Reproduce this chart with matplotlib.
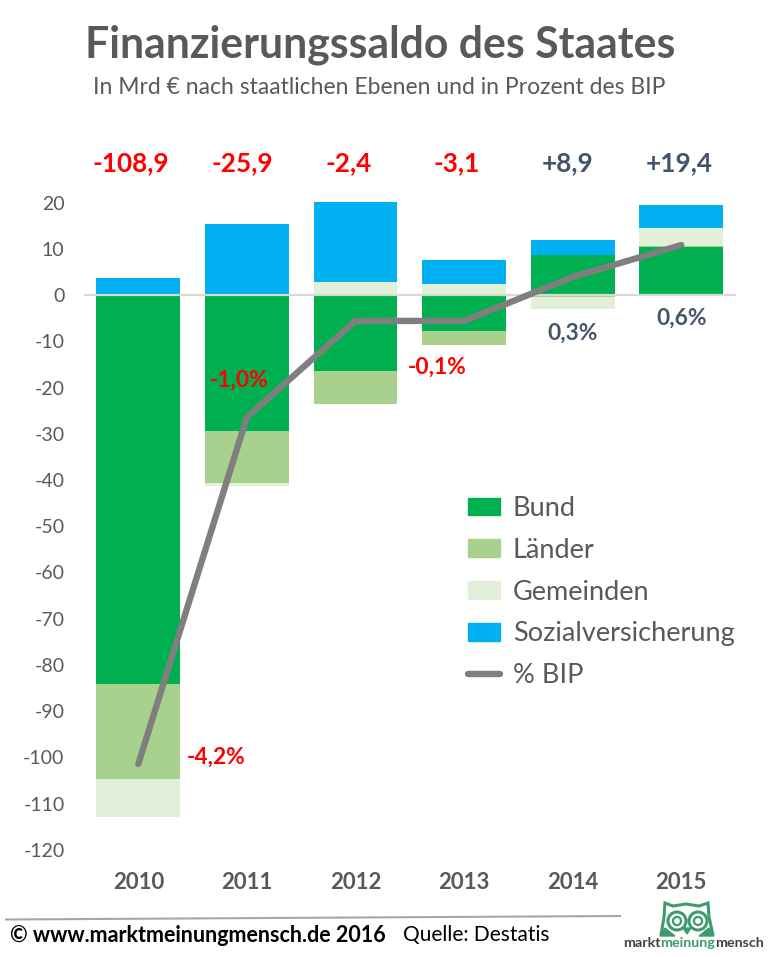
import matplotlib
matplotlib.use('Agg')
import matplotlib.pyplot as plt
import numpy as np
from matplotlib.lines import Line2D
from matplotlib.patches import Circle, Patch, Polygon

plt.rcParams['font.family'] = ['Lato', 'DejaVu Sans']
plt.rcParams['axes.unicode_minus'] = False

# Daten
years = ['2010', '2011', '2012', '2013', '2014', '2015']
bund = [-84.1, -29.4, -16.4, -7.8, 8.7, 10.4]
laender = [-20.5, -11.2, -7.2, -3.0, -0.5, 0.2]
gemeinden = [-8.3, -0.6, 2.8, 2.4, -2.5, 3.9]
sozial = [3.7, 15.4, 17.4, 5.2, 3.2, 5.0]
bip_line = [-101.4, -26.4, -5.6, -5.6, 3.9, 10.8]
totals = ['-108,9', '-25,9', '-2,4', '-3,1', '+8,9', '+19,4']
yticks = list(range(-120, 30, 10))

# Platzierung der Summen (x) und Prozent-Beschriftungen (Text, x, y)
totals_x = [-0.07, 0.96, 1.94, 2.93, 3.95, 4.98]
pct_labels = [('-4,2%', 0.718, -100.0), ('-1,0%', 0.93, -18.4), ('-0,1%', 2.754, -15.6),
              ('0,3%', 4.0, -8.2), ('0,6%', 5.0, -5.0)]

GREEN = '#00b050'
LIGHT = '#a9d18e'
PALE = '#e2efd9'
BLUE = '#00b0f0'
LINE = '#7f7f7f'
RED = '#ff0000'
SLATE = '#44546a'
W, H = 775, 957

fig = plt.figure(figsize=(W / 100, H / 100), dpi=100, facecolor='white')
ax = fig.add_axes([84 / W, 1 - 873.1 / H, (735.6 - 84) / W, (873.1 - 179.4) / H])

x = np.arange(len(years))
series = [(bund, GREEN), (laender, LIGHT), (gemeinden, PALE), (sozial, BLUE)]
pos = np.zeros(len(years))
neg = np.zeros(len(years))
for vals, col in series:
    vals = np.array(vals)
    base = np.where(vals >= 0, pos, neg)
    ax.bar(x, vals, 0.773, bottom=base, color=col, linewidth=0, zorder=2)
    pos += np.where(vals >= 0, vals, 0)
    neg += np.where(vals < 0, vals, 0)

ax.axhline(0, color='#d9d9d9', lw=1.6, zorder=3)
ax.plot(x, bip_line, color=LINE, lw=4.6, solid_capstyle='round', solid_joinstyle='miter', zorder=4)

ax.set_xlim(-0.5, 5.5)
ax.set_ylim(-125, 25)
ax.set_yticks(yticks)
ax.set_xticks(x)
ax.set_xticklabels(years, fontsize=16, fontweight='bold', color='#595959')
ax.tick_params(axis='x', length=0, pad=-1)
ax.tick_params(axis='y', length=0, pad=14, labelsize=14, labelcolor='#595959')
for s in ax.spines.values():
    s.set_visible(False)

for t, tx in zip(totals, totals_x):
    ax.text(tx, 28.6, t, ha='center', va='center', fontsize=18.8, fontweight='bold',
            color=RED if t.startswith('-') else SLATE, clip_on=False)
for t, tx, ty in pct_labels:
    ax.text(tx, ty, t, ha='center', va='center', fontsize=16.4, fontweight='bold',
            color=RED if t.startswith('-') else SLATE, zorder=5)

handles = [Patch(color=GREEN, label='Bund'), Patch(color=LIGHT, label='Länder'),
           Patch(color=PALE, label='Gemeinden'), Patch(color=BLUE, label='Sozialversicherung'),
           Line2D([0], [0], color=LINE, lw=4.6, solid_capstyle='round', label='% BIP')]
leg = ax.legend(handles=handles, loc='upper left', bbox_to_anchor=((468 - 84) / 651.6, (873.1 - 496) / 693.7),
                frameon=False, fontsize=19.5, labelcolor='#595959', handlelength=1.18, handleheight=0.62,
                handletextpad=0.48, labelspacing=0.62, borderpad=0, borderaxespad=0)

# Titel, Fußzeile und Logo in Pixelkoordinaten
ov = fig.add_axes([0, 0, 1, 1], facecolor='none')
ov.set_xlim(0, W)
ov.set_ylim(H, 0)
ov.axis('off')
ov.text(380.5, 45, 'Finanzierungssaldo des Staates', ha='center', va='center', fontsize=30.8,
        fontweight='bold', color='#595959')
ov.text(379.5, 87, 'In Mrd € nach staatlichen Ebenen und in Prozent des BIP', ha='center', va='center',
        fontsize=16.5, color='#595959')
ov.plot([6, 620], [919.5, 916], color='#a6a6a6', lw=1.5)
ov.text(10, 935, '© www.marktmeinungmensch.de 2016', ha='left', va='center', fontsize=15.5,
        fontweight='bold', color='black')
ov.text(403, 935, 'Quelle: Destatis', ha='left', va='center', fontsize=15, color='black')

OWL = '#3f9b6e'
ov.add_patch(Polygon([(661, 935), (664, 917), (665, 903), (673, 906), (686, 904), (699, 906),
                      (708, 903), (709, 917), (713, 935)], closed=False, facecolor='white',
                     edgecolor=OWL, lw=2.2))
for ex in (677, 698):
    ov.add_patch(Circle((ex, 921), 9, facecolor='white', edgecolor=OWL, lw=2.2, zorder=3))
    ov.add_patch(Circle((ex, 921), 4.5, color=OWL, zorder=4))
    ov.add_patch(Circle((ex, 921), 2.2, color='white', zorder=5))
ov.add_patch(Polygon([(683, 928), (691, 928), (687, 934)], color=OWL, zorder=6))
ov.add_patch(Polygon([(660, 936), (665, 928), (675, 936)], color=OWL, zorder=6))
ov.add_patch(Polygon([(699, 936), (709, 928), (714, 936)], color=OWL, zorder=6))
ov.text(623, 943, 'markt', ha='left', va='center', fontsize=10.3, fontweight='bold', color='#404040')
ov.text(660, 943, 'meinung', ha='left', va='center', fontsize=10.3, fontweight='bold', color=OWL)
ov.text(715, 943, 'mensch', ha='left', va='center', fontsize=10.3, fontweight='bold', color='#404040')

fig.savefig('out.png', dpi=100)
